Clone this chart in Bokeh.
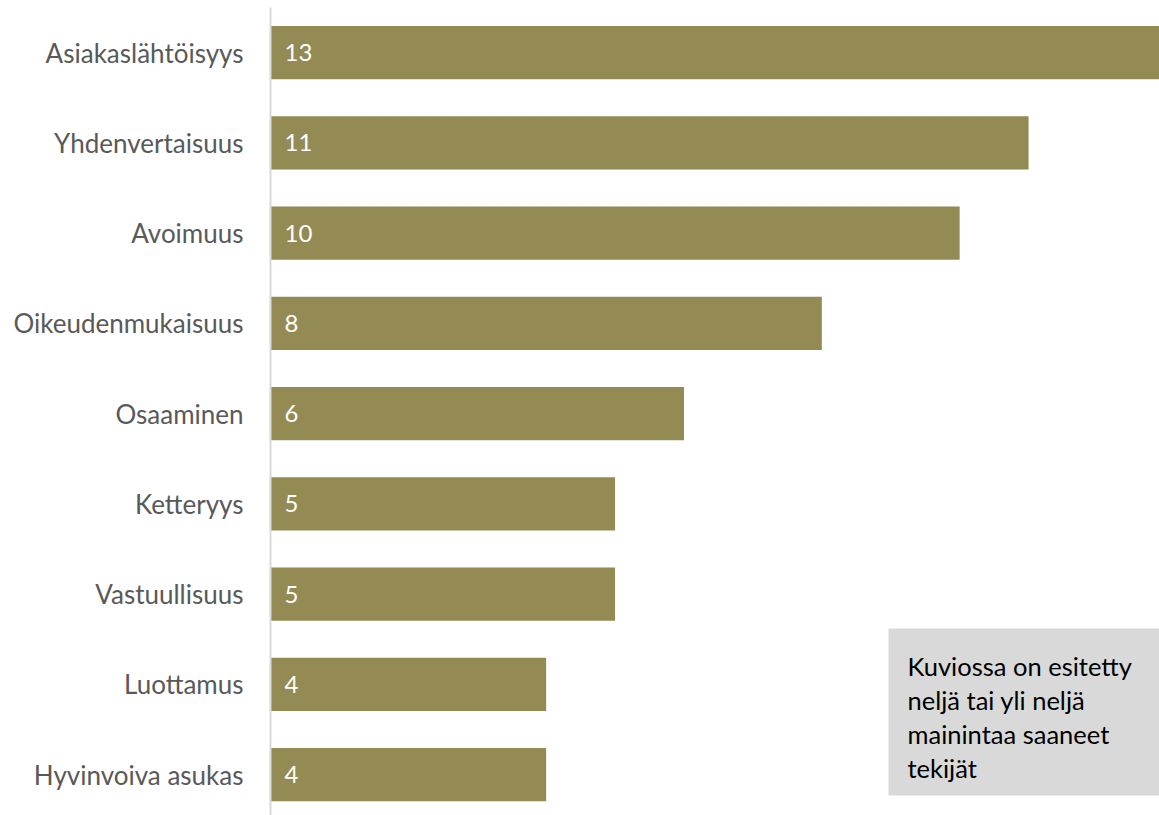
from bokeh.plotting import figure
from bokeh.models import Range1d, FixedTicker, BoxAnnotation, Label, ColumnDataSource
from bokeh.core.properties import value
from bokeh.embed import file_html
from bokeh.resources import INLINE

categories = ["Asiakaslähtöisyys", "Yhdenvertaisuus", "Avoimuus", "Oikeudenmukaisuus",
              "Osaaminen", "Ketteryys", "Vastuullisuus", "Luottamus", "Hyvinvoiva asukas"]
values = [13, 11, 10, 8, 6, 5, 5, 4, 4]
note_lines = ["Kuviossa on esitetty", "neljä tai yli neljä", "mainintaa saaneet", "tekijät"]

FONT = "Lato"
BAR = "#948A54"

W, H = 1159, 815
left, top = 270, 7
fw, fh = W - left, H - top
x0, x1 = 0, 12.9
y0, y1 = -0.5, len(categories) - 0.546

def px_x(px):
    return x0 + (px - left) / fw * (x1 - x0)

def px_y(py):
    return y0 + (py - top) / fh * (y1 - y0)

pos = list(range(len(categories)))
src = ColumnDataSource(dict(y=pos, v=values, lab=[str(v) for v in values]))

p = figure(width=W, height=H, output_backend="svg", toolbar_location=None,
           x_range=Range1d(x0, x1), y_range=Range1d(y1, y0),
           min_border_left=left, min_border_right=0, min_border_top=top, min_border_bottom=0)
p.outline_line_color = None
p.xgrid.visible = False
p.ygrid.visible = False
p.xaxis.visible = False

p.hbar(y="y", left=0, right="v", height=0.59, source=src, fill_color=BAR, line_color=None)
p.text(x=0, y="y", text="lab", source=src, x_offset=14, text_color="white",
       text_font=value(FONT), text_font_size="24px", text_baseline="middle", text_align="left")

ya = p.yaxis[0]
ya.ticker = FixedTicker(ticks=pos)
ya.major_label_overrides = {i: c for i, c in enumerate(categories)}
ya.axis_line_color = "#D9D9D9"
ya.axis_line_width = 2
ya.major_tick_line_color = None
ya.minor_tick_line_color = None
ya.major_label_standoff = 21
ya.major_label_text_font = FONT
ya.major_label_text_font_size = "26px"
ya.major_label_text_color = "#595959"

box = BoxAnnotation(left=px_x(888), right=px_x(1159), top=px_y(628), bottom=px_y(795),
                    fill_color="#D9D9D9", fill_alpha=1, line_color=None)
p.add_layout(box)
for i, line in enumerate(note_lines):
    p.add_layout(Label(x=px_x(907), y=px_y(665 + 34 * i), text=line, text_font=FONT,
                       text_font_size="25.5px", text_color="black", text_baseline="middle"))

open("out.html", "w").write(file_html(p, INLINE))
